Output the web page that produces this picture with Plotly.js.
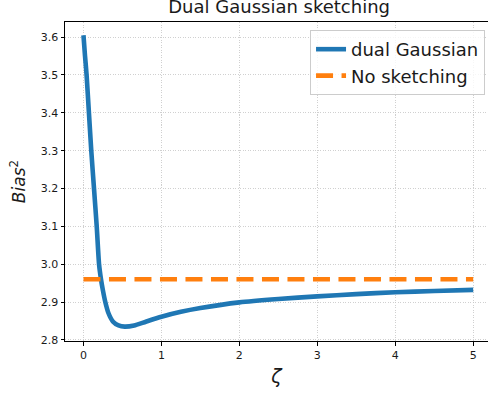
<!DOCTYPE html>
<html>
<head>
<meta charset="utf-8">
<script src="https://cdn.plot.ly/plotly-3.0.1.min.js"></script>
<style>html,body{margin:0;padding:0;overflow:hidden;background:#fff}</style>
</head>
<body>
<div id="chart" style="width:488px;height:394px"></div>
<script>
const zeta = [0, 0.02, 0.04, 0.07, 0.1, 0.135, 0.17, 0.2, 0.225, 0.25, 0.28, 0.32, 0.38, 0.45, 0.53, 0.65, 0.8, 1.0, 1.25, 1.5, 2.0, 2.5, 3.0, 3.5, 4.0, 4.5, 5.0];
const biasDual = [3.605, 3.55, 3.5, 3.4, 3.3, 3.2, 3.1, 3.0, 2.96, 2.93, 2.9, 2.871, 2.848, 2.838, 2.835, 2.838, 2.848, 2.861, 2.874, 2.884, 2.899, 2.908, 2.915, 2.921, 2.926, 2.929, 2.932];
const noSketchX = [0, 5];
const noSketchY = [2.96, 2.96];
const seriesNames = ["dual Gaussian", "No sketching"];
const yTicks = [2.8, 2.9, 3.0, 3.1, 3.2, 3.3, 3.4, 3.5, 3.6];
const xTicks = [0, 1, 2, 3, 4, 5];

const font = "DejaVu Sans, sans-serif";
const traces = [
  {x: zeta, y: biasDual, type: "scatter", mode: "lines", name: seriesNames[0],
   line: {color: "#1f77b4", width: 4.6, shape: "spline", smoothing: 0.6}},
  {x: noSketchX, y: noSketchY, type: "scatter", mode: "lines", name: seriesNames[1],
   line: {color: "#ff7f0e", width: 4.6, dash: "17px,8.5px"}}
];
const layout = {
  width: 488, height: 394,
  margin: {l: 65, r: 0, t: 22, b: 53},
  paper_bgcolor: "#fff", plot_bgcolor: "#fff",
  font: {family: font, color: "#1a1a1a", size: 11},
  title: {text: "Dual Gaussian sketching", font: {family: font, size: 18, color: "#1a1a1a"},
          x: 0.572, xanchor: "center", yref: "container", y: 0.982, yanchor: "middle"},
  showlegend: true,
  legend: {x: 0.993, y: 0.975, xanchor: "right", yanchor: "top",
           bgcolor: "rgba(255,255,255,0.8)", bordercolor: "#cccccc", borderwidth: 1,
           font: {family: font, size: 18, color: "#1a1a1a"}},
  xaxis: {range: [-0.237, 5.19], tickvals: xTicks, ticks: "outside", ticklen: 3.5, tickwidth: 1,
          tickcolor: "#000", showline: true, linecolor: "#000", linewidth: 1, mirror: true,
          showgrid: true, gridcolor: "#c4c4c4", griddash: "1px,1.5px", gridwidth: 0.8, zeroline: false,
          tickfont: {family: font, size: 11},
          title: {text: "<i>ζ</i>", font: {family: font, size: 19}, standoff: 8}},
  yaxis: {range: [2.797, 3.640], tickvals: yTicks, tickformat: ".1f", ticks: "outside", ticklen: 3.5, tickwidth: 1,
          tickcolor: "#000", showline: true, linecolor: "#000", linewidth: 1, mirror: false,
          showgrid: true, gridcolor: "#c4c4c4", griddash: "1px,1.5px", gridwidth: 0.8, zeroline: false,
          tickfont: {family: font, size: 11},
          title: {text: "<i>Bias</i><sup>2</sup>", font: {family: font, size: 17}, standoff: 10}}
};
Plotly.newPlot("chart", traces, layout, {staticPlot: true, displayModeBar: false});
</script>
</body>
</html>
